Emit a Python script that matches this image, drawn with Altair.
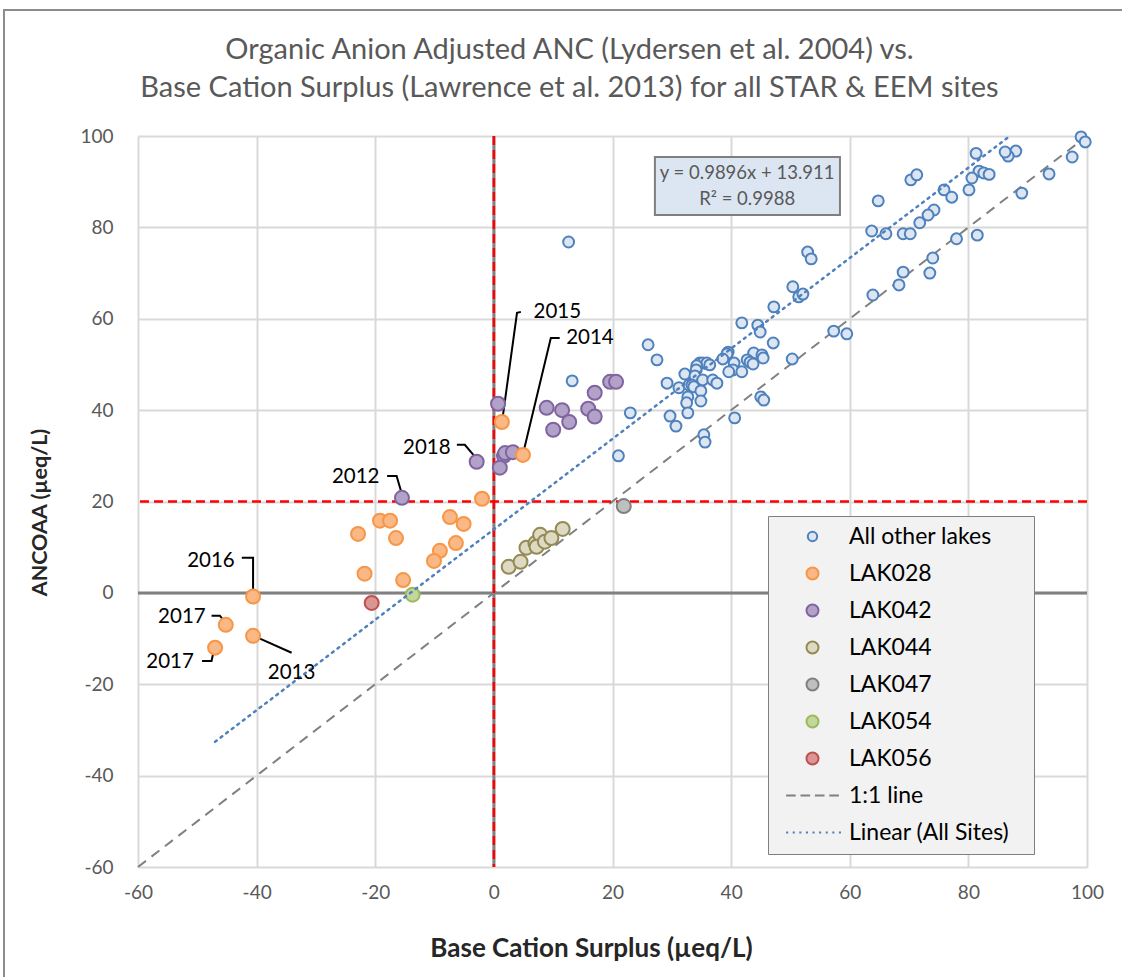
import altair as alt
import pandas as pd

# ---------------- data (µeq/L) ----------------
other_x = [99.0, 99.7, 97.5, 93.6, 89.0, 88.0, 86.7, 86.2, 81.3, 81.8, 82.6, 83.5, 80.6, 80.1,
           81.5, 78.0, 74.2, 73.2, 71.8, 75.9, 77.2, 70.3, 71.3, 64.8, 63.7, 66.1, 69.0, 70.2,
           74.0, 73.5, 69.0, 68.3, 63.9, 52.9, 53.5, 50.4, 51.4, 52.1, 57.3, 59.5,
           26.0, 27.5, 47.2, 41.8, 44.5, 44.9, 47.1, 50.3, 39.5, 39.3, 38.6, 40.5, 43.8, 45.2,
           45.4, 42.7, 43.2, 43.7, 40.3, 39.6, 41.8, 34.7, 35.2, 35.9, 36.4, 34.2, 34.1, 32.2,
           33.9, 35.2, 36.9, 37.6, 29.2, 31.2, 32.9, 33.4, 33.7, 34.9, 32.7, 32.5, 34.9, 32.7,
           23.0, 29.7, 30.7, 40.6, 35.4, 35.6, 21.0, 45.0, 45.5, 13.2, 12.6]
other_y = [99.8, 98.7, 95.4, 91.7, 87.5, 96.7, 95.6, 96.5, 96.2, 92.3, 91.9, 91.6, 90.8, 88.2,
           78.3, 77.5, 83.8, 82.7, 81.0, 88.2, 86.6, 90.4, 91.5, 85.8, 79.2, 78.6, 78.6, 78.6,
           73.3, 70.0, 70.2, 67.4, 65.2, 74.6, 73.1, 67.0, 64.8, 65.4, 57.3, 56.7,
           54.3, 51.0, 62.6, 59.1, 58.6, 57.1, 54.7, 51.2, 52.7, 52.3, 51.2, 50.3, 52.5, 52.1,
           51.4, 51.0, 50.5, 50.1, 48.8, 48.4, 48.4, 50.3, 50.3, 50.3, 49.9, 49.7, 48.8, 47.9,
           47.5, 46.6, 46.6, 45.9, 45.9, 44.9, 45.5, 45.5, 45.1, 44.2, 42.9, 41.6, 42.0, 39.4,
           39.4, 38.7, 36.5, 38.3, 34.6, 33.0, 30.0, 42.9, 42.2, 46.4, 76.8]

lak028_x = [-22.9, -19.2, -17.5, -16.5, -21.8, -15.3, -7.4, -5.1, -6.4, -9.1, -10.1, -2.0,
            1.35, 4.9, -40.6, -45.2, -47.0, -40.6]
lak028_y = [12.9, 15.8, 15.8, 12.0, 4.2, 2.8, 16.6, 15.1, 10.9, 9.2, 7.0, 20.6,
            37.4, 30.2, -0.8, -7.0, -12.0, -9.4]

lak042_x = [0.7, 8.9, 11.5, 10.0, 12.7, 15.9, 17.0, 17.0, 19.6, 20.6, 1.7, 1.9, 3.2, 1.0, -2.9, -15.5]
lak042_y = [41.4, 40.5, 40.0, 35.7, 37.4, 40.3, 38.6, 43.8, 46.2, 46.2, 30.0, 30.6, 30.8, 27.4, 28.7, 20.8]

lak044_x = [2.5, 4.5, 5.5, 7.0, 7.8, 7.2, 8.6, 9.7, 11.6]
lak044_y = [5.7, 6.8, 9.9, 10.9, 12.7, 10.1, 11.2, 12.0, 14.0]

lak047_x = [21.9]
lak047_y = [19.0]
lak054_x = [-13.7]
lak054_y = [-0.4]
lak056_x = [-20.6]
lak056_y = [-2.2]

# fitted trend line (all sites), as printed in the equation box
slope = 0.9896
intercept = 13.911
r_squared = 0.9988
trend_x = [-47.0, 87.0]

one_to_one = [-60, 100]
bcs_threshold = 0      # vertical reference (µeq/L)
ancoaa_threshold = 20  # horizontal reference (µeq/L)

# year call-outs: label centre and leader polyline
ann_year = ["2015", "2014", "2018", "2012", "2016", "2017", "2017", "2013"]
ann_lx = [10.7, 16.2, -11.3, -23.3, -47.7, -52.6, -54.6, -34.1]
ann_ly = [61.5, 55.8, 31.7, 25.4, 7.0, -5.3, -15.1, -17.5]
leader_id = [0, 0, 0, 1, 1, 1, 2, 2, 2, 3, 3, 3, 4, 4, 4, 5, 5, 5, 6, 6, 6, 7, 7]
leader_x = [4.55, 3.9, 1.5, 11.1, 9.6, 5.06, -6.24, -4.9, -3.2, -18.0, -16.4, -15.5,
            -42.5, -40.6, -40.6, -47.6, -46.2, -45.2, -49.2, -47.6, -47.2, -40.5, -34.1]
leader_y = [61.5, 61.3, 38.6, 55.8, 55.8, 31.2, 32.4, 32.4, 29.8, 25.6, 25.6, 21.6,
            7.7, 7.7, 0.4, -5.0, -5.0, -6.6, -14.9, -14.9, -12.5, -9.4, -13.1]

# ---------------- styling ----------------
FONT = "Lato"
series_names = ["All other lakes", "LAK028", "LAK042", "LAK044", "LAK047", "LAK054", "LAK056",
                "1:1 line", "Linear (All Sites)"]
fills = ["#dce6f2", "#f9b885", "#b3a2c7", "#ddd9c3", "#bfbfbf", "#c3d69b", "#d99694",
         "transparent", "transparent"]
strokes = ["#4f81bd", "#f79646", "#8064a2", "#948a54", "#808080", "#9bbb59", "#c0504d",
           "#808080", "#4f81bd"]
small_circle = "M-0.78,0A0.78,0.78,0,1,0,0.78,0A0.78,0.78,0,1,0,-0.78,0Z"
dash_path = "M-4.4,0H-2.8M-2,0H-0.4M0.4,0H2M2.8,0H4.4"
dot_path = "".join(f"M{-4.4 + i * 1.1:.2f},0H{-4.4 + i * 1.1 + 0.35:.2f}" for i in range(9))
shapes = [small_circle] + ["circle"] * 6 + [dash_path, dot_path]

W, H = 949, 731

xs = alt.Scale(domain=[-60, 100], nice=False, zero=False)
ys = alt.Scale(domain=[-60, 100], nice=False, zero=False)
tick_vals = list(range(-60, 101, 20))
x_axis = alt.Axis(values=tick_vals, title="Base Cation Surplus (µeq/L)", titleFontSize=26,
                  titleX=453, titleY=81, titleAnchor="middle", titleBaseline="middle",
                  labelExpr="'' + datum.value")
y_axis = alt.Axis(values=tick_vals, title="ANCOAA (µeq/L)", titleFontSize=21.5,
                  titleX=-98, titleY=376, titleAngle=270, titleBaseline="middle", titleAlign="center",
                  labelExpr="'' + datum.value")


def X(field="x"):
    return alt.X(f"{field}:Q", scale=xs, axis=x_axis)


def Y(field="y"):
    return alt.Y(f"{field}:Q", scale=ys, axis=y_axis)


# ---------------- tables ----------------
order = [("All other lakes", other_x, other_y), ("LAK042", lak042_x, lak042_y),
         ("LAK044", lak044_x, lak044_y), ("LAK047", lak047_x, lak047_y),
         ("LAK054", lak054_x, lak054_y), ("LAK056", lak056_x, lak056_y),
         ("LAK028", lak028_x, lak028_y)]
pts = pd.concat([pd.DataFrame({"x": xv, "y": yv, "series": name}) for name, xv, yv in order],
                ignore_index=True)

trend = pd.DataFrame({"x": trend_x, "y": [slope * v + intercept for v in trend_x]})
ident = pd.DataFrame({"x": one_to_one, "y": one_to_one})
ann = pd.DataFrame({"label": ann_year, "x": ann_lx, "y": ann_ly})
leaders = pd.DataFrame({"id": leader_id, "x": leader_x, "y": leader_y,
                        "k": list(range(len(leader_x)))})
eq_box = pd.DataFrame({"x": [27.15], "x2": [58.35], "y": [95.4], "y2": [82.7]})
eq_text = pd.DataFrame({"x": [42.7, 42.7], "y": [91.9, 86.2],
                        "t": [f"y = {slope}x + {intercept}", f"R² = {r_squared}"]})
one = pd.DataFrame({"v": [0]})

# ---------------- layers ----------------
# outer chart border
frame = alt.Chart(one).mark_rect(fill=None, stroke="#8c8c8c", strokeWidth=2).encode(
    x=alt.value(-134), x2=alt.value(W + 200), y=alt.value(-126), y2=alt.value(H + 300))

zero_v = alt.Chart(pd.DataFrame({"x": [0]})).mark_rule(color="#808080", strokeWidth=3).encode(x=X())
zero_h = alt.Chart(pd.DataFrame({"y": [0]})).mark_rule(color="#808080", strokeWidth=3).encode(y=Y())
red_v = alt.Chart(pd.DataFrame({"x": [bcs_threshold]})).mark_rule(
    color="#ff0000", strokeWidth=2.5, strokeDash=[9, 5]).encode(x=X())
red_h = alt.Chart(pd.DataFrame({"y": [ancoaa_threshold]})).mark_rule(
    color="#ff0000", strokeWidth=2.5, strokeDash=[9, 5]).encode(y=Y())

ident_line = alt.Chart(ident).mark_line(color="#808080", strokeWidth=2, strokeDash=[10, 7]).encode(
    x=X(), y=Y())

leader_lines = alt.Chart(leaders).mark_line(color="#000000", strokeWidth=2).encode(
    x=X(), y=Y(), detail="id:N", order="k:Q")

# single boxed legend; a blank title on the right side widens the box
legend = alt.Legend(title=".", titleOrient="right", titleColor="transparent", titleFontSize=14,
                    titlePadding=12,
                    orient="none", legendX=630, legendY=380, padding=9,
                    fillColor="#f2f2f2", strokeColor="#7f7f7f", rowPadding=13,
                    labelFontSize=23, labelFont=FONT, labelColor="#000000", labelLimit=400,
                    symbolSize=144, symbolStrokeWidth=2, symbolOffset=24, labelOffset=25,
                    direction="vertical")

points = alt.Chart(pts).mark_point(filled=True, size=196, strokeWidth=2, opacity=1).encode(
    x=X(), y=Y(),
    fill=alt.Fill("series:N", scale=alt.Scale(domain=series_names, range=fills), legend=legend),
    stroke=alt.Stroke("series:N", scale=alt.Scale(domain=series_names, range=strokes), legend=legend),
    shape=alt.Shape("series:N", scale=alt.Scale(domain=series_names, range=shapes), legend=legend),
)

trend_line = alt.Chart(trend).mark_line(color="#4f81bd", strokeWidth=2.5, strokeDash=[2, 5],
                                        strokeCap="round").encode(x=X(), y=Y())

ann_text = alt.Chart(ann).mark_text(font=FONT, fontSize=20.5, color="#000000", align="center",
                                    baseline="middle").encode(x=X(), y=Y(), text="label:N")

box = alt.Chart(eq_box).mark_rect(fill="#dce6f2", stroke="#7f7f7f", strokeWidth=2).encode(
    x=X(), x2="x2:Q", y=Y(), y2="y2:Q")
box_text = alt.Chart(eq_text).mark_text(font=FONT, fontSize=18.5, color="#595959", align="center",
                                        baseline="middle").encode(x=X(), y=Y(), text="t:N")

chart = alt.layer(
    frame, zero_v, zero_h, ident_line, red_v, red_h, leader_lines, points, trend_line,
    ann_text, box, box_text,
).properties(
    width=W, height=H,
    background="#ffffff",
    autosize=alt.AutoSizeParams(type="none"),
    padding={"left": 138, "top": 136, "right": 35, "bottom": 110},
    title=alt.TitleParams(
        text=["Organic Anion Adjusted ANC (Lydersen et al. 2004) vs.",
              "Base Cation Surplus (Lawrence et al. 2013) for all STAR & EEM sites"],
        font=FONT, fontSize=29, fontWeight="normal", color="#595959", anchor="middle",
        dx=-43, dy=128, offset=34, lineHeight=38),
).configure_view(stroke=None).configure_axis(
    labelFont=FONT, labelFontSize=19, labelColor="#595959", titleFont=FONT, titleFontSize=21,
    titleColor="#262626", titleFontWeight="bold", grid=True, gridColor="#d9d9d9", gridWidth=2,
    domain=False, ticks=False, labelFlush=False, labelOverlap=False,
).configure_axisX(labelPadding=16).configure_axisY(labelPadding=25)

chart.save("out.html", embed_options={"renderer": "svg", "actions": False})
